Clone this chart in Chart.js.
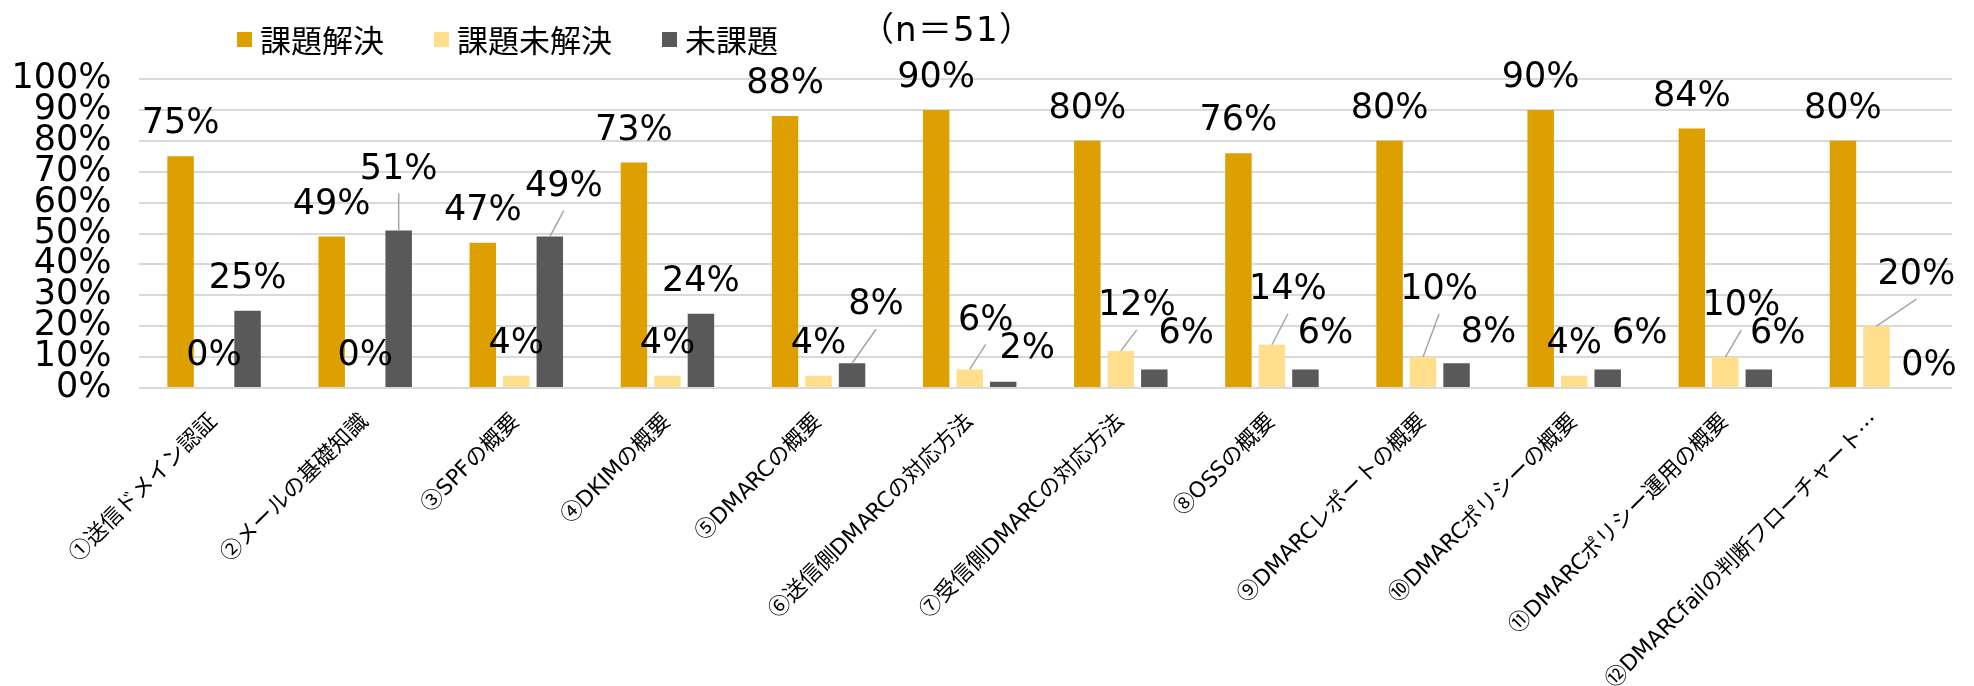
<!DOCTYPE html>
<html lang="ja">
<head>
<meta charset="utf-8">
<title>DMARC研修 理解度</title>
<script src="https://cdn.jsdelivr.net/npm/chart.js@4.4.1/dist/chart.umd.min.js"></script>
<style>
	/* wide Latin glyphs only; Japanese and circled digits come from Noto CJK */
	@font-face {
		font-family: 'LatinWide';
		src: local('DejaVu Sans'), local('DejaVuSans');
		unicode-range: U+0020-007E;
	}
	html, body { margin: 0; padding: 0; background: #ffffff; }
	#wrap { width: 1974px; height: 686px; }
</style>
</head>
<body>
<div id="wrap"><canvas id="understanding" width="1974" height="686"></canvas></div>
<script>
	// Topics
	var topics = [
		'①送信ドメイン認証',
		'②メールの基礎知識',
		'③SPFの概要',
		'④DKIMの概要',
		'⑤DMARCの概要',
		'⑥送信側DMARCの対応方法',
		'⑦受信側DMARCの対応方法',
		'⑧OSSの概要',
		'⑨DMARCレポートの概要',
		'⑩DMARCポリシーの概要',
		'⑪DMARCポリシー運用の概要',
		'⑫DMARCfailの判断フローチャート…',
	];

	// Share of respondents (%)
	var solved = [75, 49, 47, 73, 88, 90, 80, 76, 80, 90, 84, 80];
	var unsolved = [0, 0, 4, 4, 4, 6, 12, 14, 10, 4, 10, 20];
	var noIssue = [25, 51, 49, 24, 8, 2, 6, 6, 8, 6, 6, 0];

	var seriesNames = ['課題解決', '課題未解決', '未課題'];
	var sampleNote = '（n＝51）';
	var yTicks = [0, 10, 20, 30, 40, 50, 60, 70, 80, 90, 100];

	var colors = ['#DDA000', '#FFDF8C', '#595959'];

	// Moved value labels: [dx, rise above bar top, leader line]
	var movedLabels = [
		{},
		{ 5: [16, 49, true], 6: [16, 45, true], 7: [16, 55, true], 8: [16, 67, true], 10: [16, 51, true], 11: [40, 51, true] },
		{ 1: [0, 61, true], 2: [14, 50, true], 4: [24, 58, true], 5: [24, 33], 6: [32, 36], 7: [20, 36], 8: [32, 30], 9: [32, 36], 10: [19, 36], 11: [19, 22] },
	];

	var jpFont = '"Noto Sans CJK JP", "Noto Sans", sans-serif';
	var mixFont = '"DejaVu Sans", "Noto Sans CJK JP", sans-serif';
	var labelFont = 'LatinWide, "Noto Sans CJK JP", sans-serif';

	// Value labels above the bars
	var valueLabels = {
		id: 'valueLabels',
		afterDatasetsDraw: function (chart) {
			var ctx = chart.ctx;
			ctx.save();
			ctx.font = '35px ' + mixFont;
			ctx.textAlign = 'center';
			ctx.textBaseline = 'middle';
			chart.data.datasets.forEach(function (ds, i) {
				var meta = chart.getDatasetMeta(i);
				meta.data.forEach(function (bar, j) {
					var shift = movedLabels[i][j] || [0, 32, false];
					var lx = bar.x + shift[0];
					var ly = bar.y - shift[1];
					if (shift[2]) {
						ctx.strokeStyle = '#A6A6A6';
						ctx.lineWidth = 1.5;
						ctx.beginPath();
						ctx.moveTo(lx, ly + 24);
						ctx.lineTo(bar.x, bar.y);
						ctx.stroke();
					}
					ctx.fillStyle = '#000000';
					ctx.fillText(ds.data[j] + '%', lx, ly);
				});
			});
			ctx.restore();
		},
	};

	// Legend row and sample size
	var topLegend = {
		id: 'topLegend',
		afterDraw: function (chart) {
			var ctx = chart.ctx;
			ctx.save();
			ctx.font = '31px ' + jpFont;
			ctx.textBaseline = 'middle';
			ctx.textAlign = 'left';
			var x = 237;
			seriesNames.forEach(function (name, i) {
				ctx.fillStyle = colors[i];
				ctx.fillRect(x, 32, 15, 15);
				x += 23;
				ctx.fillStyle = '#000000';
				ctx.fillText(name, x, 40);
				x += ctx.measureText(name).width + 50;
			});
			ctx.font = '34px ' + labelFont;
			ctx.letterSpacing = '1px';
			ctx.fillText(sampleNote, 860, 32);
			ctx.restore();
		},
	};

	function drawChart() {
		var ctx1 = document.getElementById('understanding').getContext('2d');
		var myChart1 = new Chart(ctx1, {
			type: 'bar',
			data: {
				labels: topics,
				datasets: [
					{ label: seriesNames[0], data: solved, backgroundColor: colors[0] },
					{ label: seriesNames[1], data: unsolved, backgroundColor: colors[1] },
					{ label: seriesNames[2], data: noIssue, backgroundColor: colors[2] },
				],
			},
			options: {
				responsive: false,
				animation: false,
				categoryPercentage: 0.665,
				barPercentage: 0.79,
				layout: { padding: { top: 79, right: 22, left: 0, bottom: 0 } },
				plugins: {
					legend: { display: false },
					tooltip: { enabled: false },
				},
				scales: {
					x: {
						grid: { display: false },
						border: { display: false },
						ticks: {
							color: '#000000',
							font: { family: labelFont, size: 22 },
							minRotation: 45,
							maxRotation: 45,
							autoSkip: false,
							padding: 13,
						},
						afterFit: function (scale) {
							scale.height = 298;
						},
					},
					y: {
						min: 0,
						max: 100,
						afterBuildTicks: function (scale) {
							scale.ticks = yTicks.map(function (v) { return { value: v }; });
						},
						grid: { color: '#D9D9D9', lineWidth: 2, drawTicks: false },
						border: { display: false },
						ticks: {
							color: '#000000',
							font: { family: mixFont, size: 35 },
							padding: 27,
							autoSkip: false,
							callback: function (v) { return v + '%'; },
						},
						afterFit: function (scale) {
							scale.width = 138.5;
						},
					},
				},
			},
			plugins: [valueLabels, topLegend],
		});
	}

	// wait for the local Latin face before drawing
	document.fonts.load('22px LatinWide', 'DMARC').then(drawChart, drawChart);
</script>
</body>
</html>
